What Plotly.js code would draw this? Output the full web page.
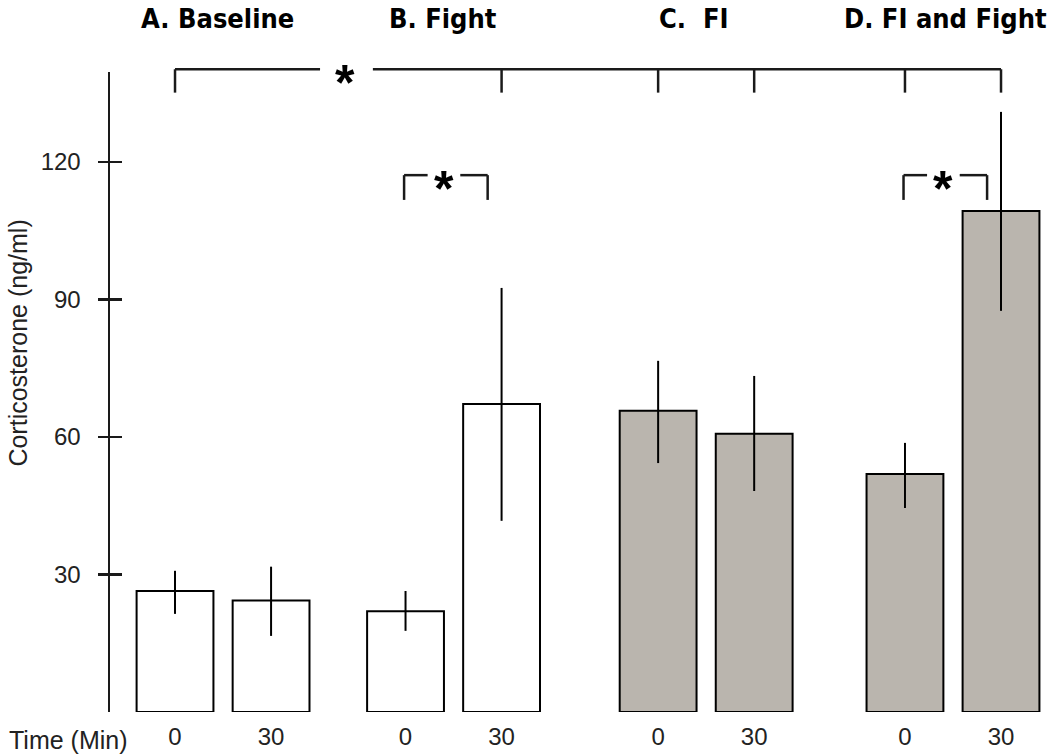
<!DOCTYPE html>
<html>
<head>
<meta charset="utf-8">
<script src="https://cdn.plot.ly/plotly-3.0.1.min.js"></script>
<style>html,body{margin:0;padding:0;background:#fff;}#chart{width:1050px;height:755px;}</style>
</head>
<body>
<div id="chart"></div>
<script>
// ---- data ----
const barPositions = [0, 1, 2.4, 3.4, 5.03, 6.03, 7.6, 8.6];
const timeLabels = ['0', '30', '0', '30', '0', '30', '0', '30'];
const means = [26.4, 24.3, 22.0, 67.2, 65.7, 60.7, 51.9, 109.3];
const errUpper = [30.8, 31.7, 26.4, 92.5, 76.6, 73.3, 58.7, 130.9];
const errLower = [21.4, 16.6, 17.7, 41.7, 54.3, 48.2, 44.5, 87.5];
const groupNames = ['A. Baseline', 'B. Fight', 'C.  FI', 'D. FI and Fight'];
const groupFI = [false, false, true, true];
const yTicks = [30, 60, 90, 120];
const yTitle = 'Corticosterone (ng/ml)';
const xTitle = 'Time (Min)';

// ---- layout helpers ----
const Y_MAX = 139.6;
const p = v => v / Y_MAX;              // data value -> paper fraction
const FONT = '"Liberation Sans", Arial, sans-serif';
const BOLD_NARROW = '"Liberation Sans Narrow", "DejaVu Sans Condensed", "Liberation Sans", Arial, sans-serif';
const LINE = {color: '#1a1a1a', width: 2.5};

const colors = barPositions.map((_, i) => groupFI[Math.floor(i / 2)] ? '#bab5ae' : '#ffffff');

const bars = {
  type: 'bar',
  x: barPositions,
  y: means,
  width: 0.8,
  marker: {color: colors, line: {color: '#000', width: 2}},
  error_y: {
    type: 'data', symmetric: false,
    array: means.map((m, i) => errUpper[i] - m),
    arrayminus: means.map((m, i) => m - errLower[i]),
    width: 0, thickness: 2, color: '#000'
  },
  hoverinfo: 'skip',
  showlegend: false
};
const ghost = {type: 'scatter', x: [barPositions[0]], y: [0], yaxis: 'y2', mode: 'none', hoverinfo: 'skip', showlegend: false};

// brackets
const shapes = [];
function seg(x0, x1, y0, y1) {
  shapes.push({type: 'line', xref: 'x', yref: 'paper', x0, x1, y0: p(y0), y1: p(y1), line: LINE, layer: 'above'});
}
// main bracket: baseline vs all others
const topY = 140.2, topTick = 135.1;
const topTicks = [0, 3, 4, 5, 6, 7].map(i => barPositions[i]);
const topStarX = 1.77;
seg(topTicks[0], topStarX - 0.26, topY, topY);
seg(topStarX + 0.29, topTicks[topTicks.length - 1], topY, topY);
topTicks.forEach(x => seg(x, x, topY, topTick));
// within-group brackets (B and D)
const smallY = 117.1, smallTick = 111.7;
const stars = [{x: topStarX, y: topY}];
[[2, 3], [6, 7]].forEach(([a, b]) => {
  const xl = barPositions[a] - 0.015, xr = barPositions[b] - 0.145;
  const xm = (xl + xr) / 2 - 0.02;
  seg(xl, xm - 0.17, smallY, smallY);
  seg(xm + 0.17, xr, smallY, smallY);
  seg(xl, xl, smallY, smallTick);
  seg(xr, xr, smallY, smallTick);
  stars.push({x: xm, y: smallY});
});

const annotations = [];
stars.forEach(s => annotations.push({
  xref: 'x', yref: 'paper', x: s.x, y: p(s.y), text: '*', showarrow: false,
  xanchor: 'center', yanchor: 'middle', yshift: -14,
  font: {family: '"Liberation Sans", Arial, sans-serif', size: 50, color: '#000', weight: 'bold'}
}));
const labelOffsets = [-0.06, -0.11, -0.13, -0.08];
groupNames.forEach((g, k) => annotations.push({
  xref: 'x', yref: 'paper',
  x: (barPositions[2 * k] + barPositions[2 * k + 1]) / 2 + labelOffsets[k],
  y: 1.083, text: '<b>' + g + '</b>', showarrow: false,
  xanchor: 'center', yanchor: 'middle',
  font: {family: BOLD_NARROW, size: 27, color: '#000'}
}));
annotations.push({
  xref: 'paper', yref: 'paper', x: -0.1096, y: -0.044, text: xTitle, showarrow: false,
  xanchor: 'left', yanchor: 'middle', font: {family: FONT, size: 25, color: '#222'}
});
annotations.push({
  xref: 'paper', yref: 'paper', x: -0.098, y: 0.577, text: yTitle, showarrow: false,
  textangle: -90, xanchor: 'center', yanchor: 'middle', font: {family: FONT, size: 25, color: '#222'}
});

const layout = {
  width: 1050, height: 755,
  margin: {l: 110, r: 0, t: 72, b: 43},
  paper_bgcolor: '#fff', plot_bgcolor: '#fff',
  showlegend: false,
  xaxis: {
    range: [-0.677, 9.11], showgrid: false, zeroline: false, showline: false,
    tickvals: barPositions, ticktext: timeLabels, ticks: '',
    tickfont: {family: FONT, size: 24, color: '#222'}, ticklabelstandoff: 8
  },
  yaxis: {
    range: [0, Y_MAX], showgrid: false, zeroline: false,
    showline: true, linecolor: '#1a1a1a', linewidth: 2.5,
    tickvals: yTicks, ticks: 'outside', ticklen: 10, tickwidth: 2.5, tickcolor: '#1a1a1a',
    tickfont: {family: FONT, size: 24, color: '#222'}, ticklabelstandoff: 12
  },
  yaxis2: {
    overlaying: 'y', range: [0, Y_MAX], showgrid: false, zeroline: false, showline: false,
    tickvals: yTicks, ticks: 'inside', ticklen: 12, tickwidth: 2.5, tickcolor: '#1a1a1a',
    showticklabels: false
  },
  shapes, annotations
};
Plotly.newPlot('chart', [bars, ghost], layout, {staticPlot: true, displayModeBar: false});
</script>
</body>
</html>
